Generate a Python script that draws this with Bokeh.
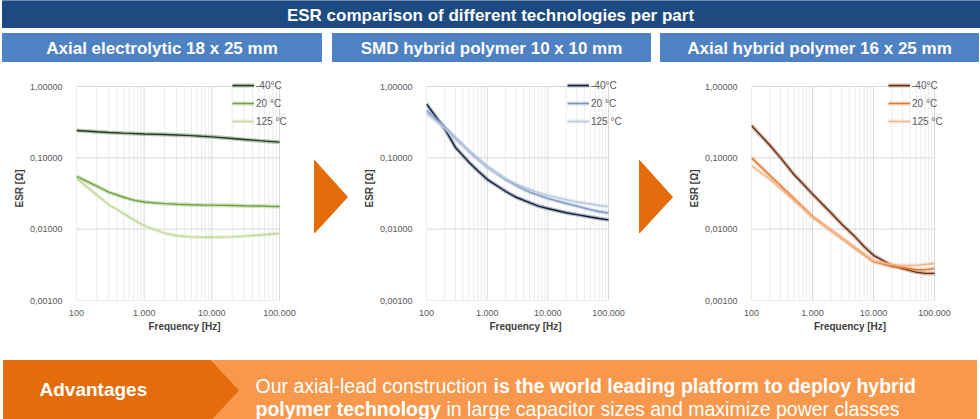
from bokeh.plotting import figure
from bokeh.layouts import row, column
from bokeh.models import Range1d, FixedTicker, Legend, LegendItem
from bokeh.core.properties import value
from bokeh.embed import file_html
from bokeh.resources import INLINE

FONT = "Liberation Sans"

# ---- data ----
freq = [100, 200, 300, 500, 700, 1000, 2000, 3000, 5000, 7000,
        10000, 20000, 30000, 50000, 70000, 100000]
temps = ["-40°C", "20 °C", "125 °C"]

axial_m40 = [0.242, 0.232, 0.227, 0.222, 0.219, 0.216, 0.212, 0.209, 0.205, 0.201,
             0.197, 0.187, 0.181, 0.174, 0.170, 0.166]
axial_20 = [0.055, 0.040, 0.033, 0.028, 0.0255, 0.0240, 0.0228, 0.0224, 0.0220, 0.0218,
            0.0217, 0.0215, 0.0213, 0.0211, 0.0209, 0.0208]
axial_125 = [0.052, 0.030, 0.022, 0.0165, 0.0135, 0.0112, 0.0088, 0.0081, 0.0078, 0.0077,
             0.0077, 0.0078, 0.0080, 0.0083, 0.0085, 0.0087]

smd_m40 = [0.57, 0.255, 0.14, 0.087, 0.066, 0.050, 0.034, 0.028, 0.0235, 0.021,
           0.0195, 0.0170, 0.0160, 0.0148, 0.0141, 0.0135]
smd_20 = [0.46, 0.27, 0.19, 0.125, 0.097, 0.075, 0.050, 0.041, 0.033, 0.030,
          0.027, 0.023, 0.021, 0.0188, 0.0177, 0.0168]
smd_125 = [0.42, 0.26, 0.185, 0.123, 0.096, 0.074, 0.051, 0.043, 0.036, 0.0325,
           0.0298, 0.026, 0.024, 0.0225, 0.0215, 0.0208]

ahp_m40 = [0.284, 0.15, 0.10, 0.058, 0.043, 0.031, 0.017, 0.0118, 0.0078, 0.0057,
           0.0043, 0.0031, 0.0028, 0.0025, 0.0024, 0.0024]
ahp_20 = [0.10, 0.0566, 0.0407, 0.0267, 0.0203, 0.015, 0.0097, 0.0075, 0.0054, 0.0044,
          0.0035, 0.0030, 0.0029, 0.0027, 0.0027, 0.0028]
ahp_125 = [0.078, 0.050, 0.037, 0.025, 0.0195, 0.0147, 0.0096, 0.0075, 0.0055, 0.0045,
           0.0036, 0.0032, 0.0031, 0.0031, 0.0032, 0.0033]

x_ticks = [100, 1000, 10000, 100000]
x_minor = [200, 300, 400, 500, 600, 700, 800, 900,
           2000, 3000, 4000, 5000, 6000, 7000, 8000, 9000,
           20000, 30000, 40000, 50000, 60000, 70000, 80000, 90000]
x_labels = ["100", "1.000", "10.000", "100.000"]
y_ticks = [0.001, 0.01, 0.1, 1]
y_labels = ["0,00100", "0,01000", "0,10000", "1,00000"]

title = "ESR comparison of different technologies per part"
panel_titles = ["Axial electrolytic 18 x 25 mm", "SMD hybrid polymer 10 x 10 mm",
                "Axial hybrid polymer 16 x 25 mm"]

NAVY = "#1d4a80"
BLUE = "#4e82c2"
ORANGE = "#e46c0a"
LIGHT_ORANGE = "#f7984c"


def deco_figure(width, height, x0, x1, y0, y1):
    # plain canvas in page pixel coordinates (y grows downward)
    p = figure(width=width, height=height, x_range=Range1d(x0, x1),
               y_range=Range1d(y1, y0), min_border=0,
               x_axis_location=None, y_axis_location=None,
               toolbar_location=None, output_backend="svg")
    p.outline_line_color = None
    p.grid.visible = False
    return p


def chart(width, left, right, x_pad, series, colors, legend_x):
    # the frame reaches a little past the data area (top and right) so the
    # legend, which sits over that corner, is not clipped
    p = figure(width=width, height=275, x_axis_type="log", y_axis_type="log",
               x_range=Range1d(100, 10 ** (5 + x_pad)),
               y_range=Range1d(0.001, 10 ** (30 / 214)),
               min_border_left=left, min_border_right=right,
               min_border_top=6, min_border_bottom=45,
               toolbar_location=None, output_backend="svg")
    p.outline_line_color = None
    p.grid.visible = False

    p.xaxis.ticker = FixedTicker(ticks=x_ticks)
    p.xaxis.major_label_overrides = dict(zip(x_ticks, x_labels))
    p.yaxis.ticker = FixedTicker(ticks=y_ticks)
    p.yaxis.major_label_overrides = dict(zip(y_ticks, y_labels))

    # gridlines limited to the data area
    lo, hi = y_ticks[0], y_ticks[-1]
    p.segment(x0=x_minor, y0=[lo] * len(x_minor), x1=x_minor, y1=[hi] * len(x_minor),
              line_color="#ececec", line_width=1)
    p.segment(x0=x_ticks, y0=[lo] * len(x_ticks), x1=x_ticks, y1=[hi] * len(x_ticks),
              line_color="#d9d9d9", line_width=1)
    p.segment(x0=[x_ticks[0]] * len(y_ticks), y0=y_ticks,
              x1=[x_ticks[-1]] * len(y_ticks), y1=y_ticks,
              line_color="#d9d9d9", line_width=1)

    for ax in (p.xaxis, p.yaxis):
        ax.axis_line_color = None
        ax.major_tick_line_color = None
        ax.minor_tick_line_color = None
        ax.major_label_text_font = FONT
        ax.major_label_text_font_size = "9px"
        ax.major_label_text_color = "#595959"
        ax.axis_label_text_font = FONT
        ax.axis_label_text_font_size = "10px"
        ax.axis_label_text_font_style = "bold"
        ax.axis_label_text_color = "#404040"
    p.xaxis.axis_label = "Frequency [Hz]"
    p.xaxis.major_label_standoff = 3
    p.xaxis.axis_label_standoff = 2
    p.yaxis.axis_label = "ESR [Ω]"
    p.yaxis.major_label_standoff = 8
    p.yaxis.axis_label_standoff = 2

    items = []
    for label, vals, c in zip(temps, series, colors):
        glow = p.line(freq, vals, line_width=4, color=c, alpha=0.3)
        core = p.line(freq, vals, line_width=1.4, color=c)
        items.append(LegendItem(label=label, renderers=[glow, core]))
    legend = Legend(items=items, location=(legend_x, 172),
                    glyph_width=22, glyph_height=14, label_height=14,
                    spacing=4, padding=0, margin=0, label_standoff=2,
                    label_text_font=FONT, label_text_font_size="10px",
                    label_text_color="#595959",
                    background_fill_alpha=0, border_line_alpha=0)
    p.add_layout(legend)
    return p


# ---- header: title bar and panel headers ----
head = deco_figure(980, 70, 0, 980, 0, 70)
head.quad(left=[2], right=[980], top=[0], bottom=[27], color=NAVY)
head.text(x=[490], y=[14.5], text=[title], text_font=value(FONT),
          text_font_style="bold", text_font_size="17px", text_color="white",
          text_align="center", text_baseline="middle")
head.quad(left=[2, 332, 660], right=[321, 650, 978], top=[33, 33, 33],
          bottom=[61, 61, 61], color=BLUE)
head.text(x=[161.5, 491, 819], y=[48, 48, 48], text=panel_titles,
          text_font=value(FONT), text_font_style="bold", text_font_size="17px",
          text_color="white", text_align="center", text_baseline="middle")

# ---- charts with arrows between them ----
c1 = chart(305, 76, 13, 13 / 67.67, [axial_m40, axial_20, axial_125],
           ["#263d1b", "#70a33d", "#c4d79b"], 156)
c2 = chart(275, 71, 6, 16 / 60.67, [smd_m40, smd_20, smd_125],
           ["#0f1f3d", "#7a96c4", "#b9c8de"], 141)
c3 = chart(295, 66, 32, 14 / 61.0, [ahp_m40, ahp_20, ahp_125],
           ["#6e2c0c", "#e07a2e", "#f5b788"], 137)

a1 = deco_figure(50, 275, 305, 355, 70, 345)
a1.patch([314, 347, 314], [173, 218, 262], color=ORANGE)
a2 = deco_figure(55, 275, 630, 685, 70, 345)
a2.patch([639, 672, 639], [173, 218, 262], color=ORANGE)

# ---- advantages banner ----
ban = deco_figure(980, 74, 0, 980, 345, 419)
ban.quad(left=[200], right=[976], top=[360], bottom=[420], color=LIGHT_ORANGE)
ban.patch([3, 210, 238, 210, 3], [360, 360, 390, 420, 420], color=ORANGE)
ban.text(x=[39], y=[389], text=["Advantages"], text_font=value(FONT),
         text_font_style="bold", text_font_size="19px", text_color="white",
         text_baseline="middle")
ban.text(x=[255, 446], y=[385, 408], text=["Our axial-lead construction",
                                           "in large capacitor sizes and maximize power classes"],
         text_font=value(FONT), text_font_size="19.5px", text_color="white",
         text_baseline="alphabetic")
ban.text(x=[493, 255], y=[385, 408], text=["is the world leading platform to deploy hybrid",
                                           "polymer technology"],
         text_font=value(FONT), text_font_style="bold", text_font_size="19.5px",
         text_color="white", text_baseline="alphabetic")

layout = column(head, row(c1, a1, c2, a2, c3), ban)
open("out.html", "w").write(file_html(layout, INLINE))
